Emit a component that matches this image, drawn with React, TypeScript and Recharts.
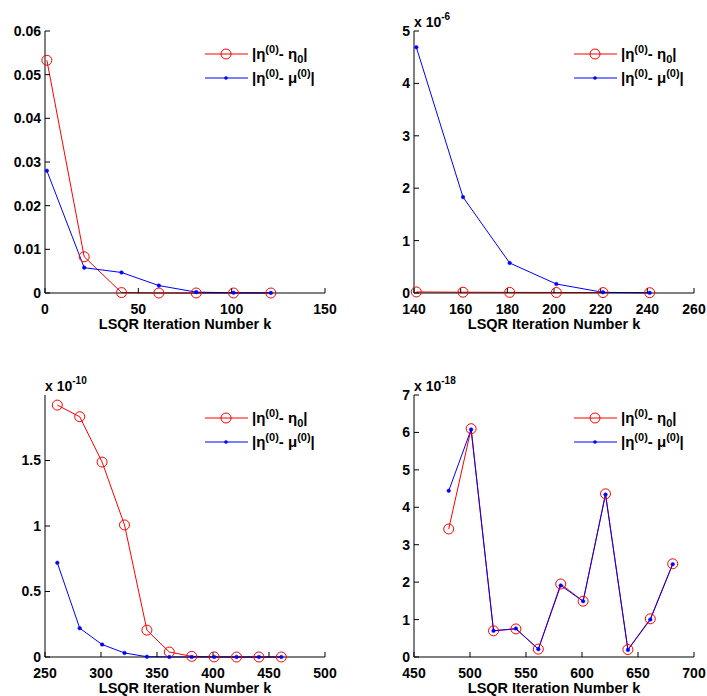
import { LineChart, Line, XAxis, YAxis, Legend, Label } from 'recharts';

const FONT = '"Liberation Sans", Arial, sans-serif';
const TITLE = 'well1850';
const X_LABEL = 'LSQR Iteration Number k';

// panel 1 (top left)
const k1 = [1, 21, 41, 61, 81, 101, 121];
const eta1 = [0.0533, 0.0083, 0.0001, 0.0, 0.0, 0.0, 0.0];
const mu1 = [0.028, 0.0058, 0.0047, 0.0017, 0.0002, 0.00005, 0.00002];
const xTicks1 = [0, 50, 100, 150];
const yTicks1 = [0, 0.01, 0.02, 0.03, 0.04, 0.05, 0.06];

// panel 2 (top right), values in units of 1e-6
const k2 = [141, 161, 181, 201, 221, 241];
const eta2 = [0.02, 0.015, 0.012, 0.01, 0.008, 0.006];
const mu2 = [4.69, 1.83, 0.573, 0.172, 0.013, 0.003];
const xTicks2 = [140, 160, 180, 200, 220, 240, 260];
const yTicks2 = [0, 1, 2, 3, 4, 5];

// panel 3 (bottom left), values in units of 1e-10
const k3 = [261, 281, 301, 321, 341, 361, 381, 401, 421, 441, 461];
const eta3 = [1.923, 1.834, 1.488, 1.008, 0.205, 0.038, 0.005, 0.001, 0, 0, 0];
const mu3 = [0.719, 0.22, 0.095, 0.031, 0.002, 0.0005, 0, 0, 0, 0, 0];
const xTicks3 = [250, 300, 350, 400, 450, 500];
const yTicks3 = [0, 0.5, 1, 1.5];

// panel 4 (bottom right), values in units of 1e-18
const k4 = [481, 501, 521, 541, 561, 581, 601, 621, 641, 661, 681];
const eta4 = [3.42, 6.1, 0.7, 0.75, 0.21, 1.95, 1.49, 4.36, 0.2, 1.02, 2.49];
const mu4 = [4.44, 6.08, 0.7, 0.76, 0.21, 1.91, 1.49, 4.34, 0.19, 1.0, 2.48];
const xTicks4 = [450, 500, 550, 600, 650, 700];
const yTicks4 = [0, 1, 2, 3, 4, 5, 6, 7];

const BOX_W = 280;
const BOX_H = 262;
const AX_W = 45;
const TOP = 31;
const BOTTOM = 40;
const RIGHT = 12;

const txt = { fill: '#000', fontSize: 14, fontWeight: 'bold', fontFamily: FONT };

function LegendBox() {
  const row = { display: 'flex', alignItems: 'center', height: 24, lineHeight: '24px' } as const;
  const sup = { fontSize: 11, verticalAlign: 'super', lineHeight: 0 } as const;
  const sub = { fontSize: 11, verticalAlign: 'sub', lineHeight: 0 } as const;
  return (
    <div style={{ fontFamily: FONT, fontWeight: 'bold', fontSize: 15, color: '#000', whiteSpace: 'nowrap' }}>
      <div style={row}>
        <svg width={47} height={24}>
          <line x1={0} x2={43} y1={12} y2={12} stroke="#ff0000" strokeWidth={1} />
          <circle cx={21} cy={12} r={5} fill="none" stroke="#ff0000" />
        </svg>
        <span>|η<span style={sup}>(0)</span>- η<span style={sub}>0</span>|</span>
      </div>
      <div style={row}>
        <svg width={47} height={24}>
          <line x1={0} x2={43} y1={12} y2={12} stroke="#0000ff" strokeWidth={1} />
          <circle cx={21} cy={12} r={1.8} fill="#0000ff" />
        </svg>
        <span>|η<span style={sup}>(0)</span>- μ<span style={sup}>(0)</span>|</span>
      </div>
    </div>
  );
}

interface PanelProps {
  left: number;
  top: number;
  k: number[];
  eta: number[];
  mu: number[];
  xTicks: number[];
  yTicks: number[];
  yMax: number;
  exp?: string;
}

function Panel({ left, top, k, eta, mu, xTicks, yTicks, yMax, exp }: PanelProps) {
  const data = k.map((x, i) => ({ k: x, eta: eta[i], mu: mu[i] }));
  const xDomain = [xTicks[0], xTicks[xTicks.length - 1]];
  const w = AX_W + BOX_W + RIGHT;
  const h = TOP + BOX_H + BOTTOM;
  return (
    <div style={{ position: 'absolute', left: left - AX_W, top: top - TOP }}>
      <LineChart width={w} height={h} data={data} margin={{ top: TOP, right: RIGHT, left: 0, bottom: 0 }}>
        <XAxis
          dataKey="k" type="number" domain={xDomain} ticks={xTicks} height={BOTTOM}
          stroke="#000" tickSize={-5} tickMargin={16} tick={txt} interval={0}
        >
          <Label content={(p: any) => (
            <text x={p.viewBox.x + p.viewBox.width / 2} y={p.viewBox.y + 36} textAnchor="middle" {...txt} fontSize={14.5}>
              {X_LABEL}
            </text>
          )} />
        </XAxis>
        <XAxis
          xAxisId="top" orientation="top" dataKey="k" type="number" domain={xDomain} ticks={xTicks}
          height={0} stroke="#000" tickSize={-5} tickFormatter={() => ''}
        >
          <Label content={(p: any) => (
            <text x={p.viewBox.x + p.viewBox.width / 2} y={p.viewBox.y - 9} textAnchor="middle" {...txt}>
              {TITLE}
            </text>
          )} />
        </XAxis>
        <YAxis
          type="number" domain={[0, yMax]} ticks={yTicks} width={AX_W} stroke="#000"
          tickSize={-5} tickMargin={9} tick={txt} interval={0} tickFormatter={(v: number) => String(v)}
        >
          {exp && (
            <Label content={(p: any) => (
              <text x={p.viewBox.x + p.viewBox.width} y={p.viewBox.y - 4} {...txt}>
                <tspan>x 10</tspan>
                <tspan dy={-7} fontSize={10}>{exp}</tspan>
              </text>
            )} />
          )}
        </YAxis>
        <YAxis
          yAxisId="right" orientation="right" type="number" domain={[0, yMax]} ticks={yTicks}
          width={0} stroke="#000" tickSize={-5} tickFormatter={() => ''}
        />
        <Legend
          layout="horizontal" verticalAlign="middle" align="center"
          wrapperStyle={{ left: AX_W + BOX_W - 120, top: TOP + 11 }}
          content={() => <LegendBox />}
        />
        <Line
          type="linear" dataKey="eta" stroke="#ff0000" strokeWidth={1}
          dot={{ r: 5, stroke: '#ff0000', fill: 'none', strokeWidth: 1 }}
          activeDot={false} isAnimationActive={false}
        />
        <Line
          type="linear" dataKey="mu" stroke="#0000ff" strokeWidth={1}
          dot={{ r: 1.8, stroke: '#0000ff', fill: '#0000ff', strokeWidth: 0.5 }}
          activeDot={false} isAnimationActive={false}
        />
      </LineChart>
    </div>
  );
}

export default function App() {
  return (
    <div style={{ position: 'absolute', left: 0, top: 0, width: 707, height: 696, background: '#fff', overflow: 'hidden' }}>
      <Panel left={45} top={31} k={k1} eta={eta1} mu={mu1} xTicks={xTicks1} yTicks={yTicks1} yMax={0.06} />
      <Panel left={414} top={31} k={k2} eta={eta2} mu={mu2} xTicks={xTicks2} yTicks={yTicks2} yMax={5} exp="-6" />
      <Panel left={45} top={395} k={k3} eta={eta3} mu={mu3} xTicks={xTicks3} yTicks={yTicks3} yMax={2} exp="-10" />
      <Panel left={414} top={395} k={k4} eta={eta4} mu={mu4} xTicks={xTicks4} yTicks={yTicks4} yMax={7} exp="-18" />
    </div>
  );
}
